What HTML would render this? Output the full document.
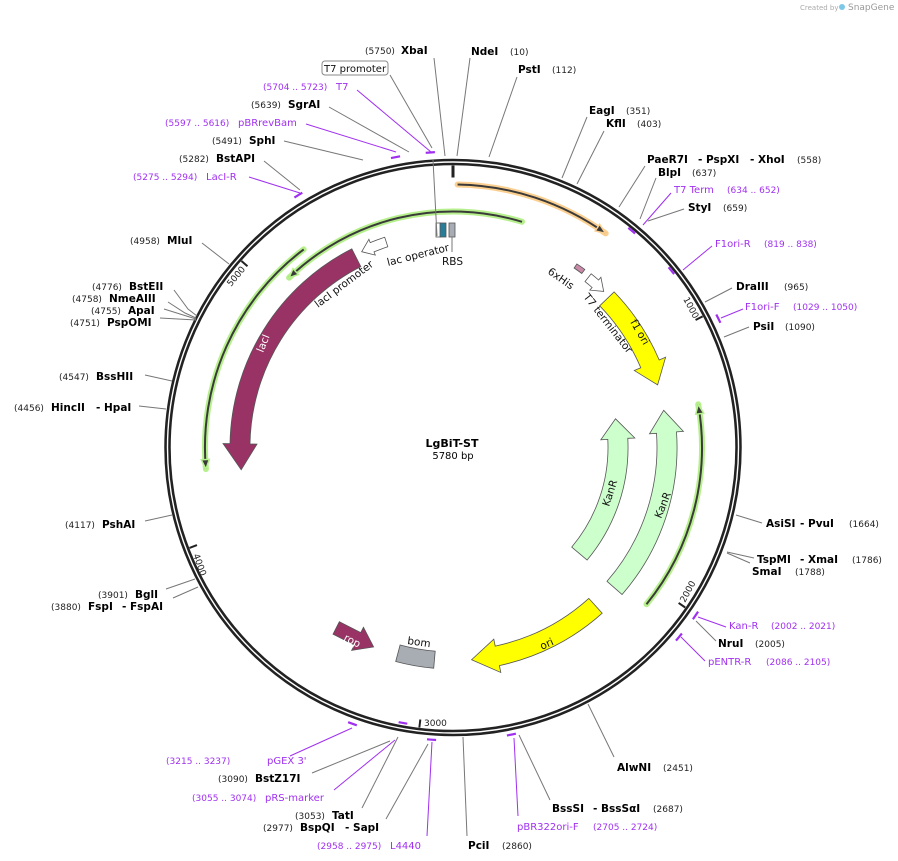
<!DOCTYPE html>
<html><head><meta charset="utf-8"><style>
html,body{margin:0;padding:0;background:#fff;}
svg{display:block;font-family:"DejaVu Sans","Liberation Sans",sans-serif;}
.n{font-size:9px;fill:#222;}
.b{font-size:10.5px;font-weight:bold;fill:#000;}
.p{font-size:10px;fill:#a030f0;}
.pn{font-size:9px;fill:#a030f0;}
.f{font-size:10.5px;fill:#111;}
.l{stroke:#777;stroke-width:1;fill:none;}
.lp{stroke:#a030f0;stroke-width:1;fill:none;}
</style></head><body>
<svg id="s" width="898" height="861" viewBox="0 0 898 861" xmlns="http://www.w3.org/2000/svg">
<text x="800" y="10" style="font-size:7px;fill:#aaa">Created by</text>
<text x="848" y="10" style="font-size:9px;fill:#999">SnapGene</text>
<circle cx="842" cy="7" r="3" fill="#7cc8e8"/>
<g id="shapes"></g>
<circle cx="453" cy="447.5" r="285.5" fill="none" stroke="#222" stroke-width="6.5"/>
<circle cx="453" cy="447.5" r="285.5" fill="none" stroke="#fff" stroke-width="1.4"/>
<g id="ticks"></g>
<rect x="436" y="223" width="5" height="14" fill="#fff" stroke="#555" stroke-width="0.8"/>
<rect x="440" y="223" width="6" height="14" fill="#2a7d96" stroke="#555" stroke-width="0.8"/>
<rect x="449" y="223" width="6" height="14" fill="#a8adb4" stroke="#555" stroke-width="0.8"/>
<line x1="452" y1="237" x2="452" y2="252" class="l"/>
<line x1="433" y1="160" x2="437" y2="236" class="l"/>
<polygon points="-20,-7 4,-7 4,-13 22,0 4,13 4,7 -20,7" fill="#993366" stroke="#555" stroke-width="0.8" transform="translate(354,637) rotate(27)"/>
<text class="f" transform="translate(343,640) rotate(27)" style="fill:#fff">rop</text>

<text class="f" transform="translate(318,308) rotate(-37)">lacI promoter</text>
<text class="f" transform="translate(388,266) rotate(-14)">lac operator</text>
<text class="f" x="442" y="265">RBS</text>
<text class="f" transform="translate(547,273) rotate(35)">6xHis</text>
<text class="f" transform="translate(583,297) rotate(52)">T7 terminator</text>
<text class="f" transform="translate(630,322) rotate(60)">f1 ori</text>
<text class="f" transform="translate(609,507) rotate(-72)">KanR</text>
<text class="f" transform="translate(661,519) rotate(-68)">KanR</text>
<text class="f" transform="translate(542,650) rotate(-25)">ori</text>
<text class="f" transform="translate(407,644) rotate(8)">bom</text>
<text class="f" transform="translate(263,353) rotate(-68)" style="fill:#fff">lacI</text>
<text x="452" y="447" text-anchor="middle" style="font-size:11px;font-weight:bold">LgBiT-ST</text>
<text x="453" y="459" text-anchor="middle" style="font-size:10px">5780 bp</text>

<text class="n" transform="translate(683,299) rotate(62)">1000</text>
<text class="n" transform="translate(685,603) rotate(-62)">2000</text>
<text class="n" x="424" y="726">3000</text>
<text class="n" transform="translate(193,555) rotate(70)">4000</text>
<text class="n" transform="translate(231,287) rotate(-50)">5000</text>

<text class="n" x="365" y="54">(5750)</text><text class="b" x="401" y="54">XbaI</text>
<line x1="434" y1="58" x2="445" y2="156" class="l"/>
<rect x="322" y="61" width="66" height="14" rx="3" fill="#fff" stroke="#888"/>
<text class="f" x="324" y="72" style="font-size:10px">T7 promoter</text>
<line x1="390" y1="75" x2="432" y2="148" class="l"/>
<text class="pn" x="263" y="90">(5704 .. 5723)</text><text class="p" x="336" y="90">T7</text>
<line x1="357" y1="90" x2="431" y2="152" class="lp"/>
<text class="n" x="251" y="108">(5639)</text><text class="b" x="288" y="108">SgrAI</text>
<line x1="329" y1="107" x2="409" y2="152" class="l"/>
<text class="pn" x="165" y="126">(5597 .. 5616)</text><text class="p" x="238" y="126">pBRrevBam</text>
<line x1="306" y1="124" x2="396" y2="152" class="lp"/>
<text class="n" x="212" y="144">(5491)</text><text class="b" x="249" y="144">SphI</text>
<line x1="284" y1="141" x2="363" y2="160" class="l"/>
<text class="n" x="179" y="162">(5282)</text><text class="b" x="216" y="162">BstAPI</text>
<line x1="264" y1="161" x2="300" y2="190" class="l"/>
<text class="pn" x="133" y="180">(5275 .. 5294)</text><text class="p" x="206" y="180">LacI-R</text>
<line x1="249" y1="177" x2="300" y2="193" class="lp"/>

<text class="b" x="471" y="55">NdeI</text><text class="n" x="510" y="55">(10)</text>
<line x1="470" y1="58" x2="457" y2="156" class="l"/>
<text class="b" x="518" y="73">PstI</text><text class="n" x="552" y="73">(112)</text>
<line x1="517" y1="77" x2="489" y2="157" class="l"/>
<text class="b" x="589" y="114">EagI</text><text class="n" x="626" y="114">(351)</text>
<line x1="587" y1="117" x2="562" y2="178" class="l"/>
<text class="b" x="606" y="127">KflI</text><text class="n" x="637" y="127">(403)</text>
<line x1="604" y1="131" x2="577" y2="184" class="l"/>
<text class="b" x="647" y="163">PaeR7I</text><text class="b" x="698" y="163">- PspXI</text><text class="b" x="750" y="163">- XhoI</text><text class="n" x="797" y="163">(558)</text>
<line x1="645" y1="166" x2="619" y2="207" class="l"/>
<text class="b" x="658" y="176">BlpI</text><text class="n" x="692" y="176">(637)</text>
<line x1="656" y1="178" x2="640" y2="219" class="l"/>
<text class="p" x="674" y="193">T7 Term</text><text class="pn" x="727" y="193">(634 .. 652)</text>
<line x1="671" y1="193" x2="643" y2="225" class="lp"/>
<text class="b" x="688" y="211">StyI</text><text class="n" x="723" y="211">(659)</text>
<line x1="684" y1="209" x2="648" y2="221" class="l"/>
<text class="p" x="715" y="247">F1ori-R</text><text class="pn" x="764" y="247">(819 .. 838)</text>
<line x1="712" y1="246" x2="683" y2="270" class="lp"/>
<text class="b" x="736" y="290">DraIII</text><text class="n" x="784" y="290">(965)</text>
<line x1="732" y1="288" x2="705" y2="302" class="l"/>
<text class="p" x="745" y="310">F1ori-F</text><text class="pn" x="793" y="310">(1029 .. 1050)</text>
<line x1="743" y1="309" x2="721" y2="318" class="lp"/>
<text class="b" x="753" y="330">PsiI</text><text class="n" x="785" y="330">(1090)</text>
<line x1="749" y1="327" x2="724" y2="337" class="l"/>

<text class="b" x="766" y="527">AsiSI</text><text class="b" x="800" y="527">- PvuI</text><text class="n" x="849" y="527">(1664)</text>
<line x1="762" y1="523" x2="736" y2="515" class="l"/>
<text class="b" x="757" y="563">TspMI</text><text class="b" x="800" y="563">- XmaI</text><text class="n" x="852" y="563">(1786)</text>
<line x1="754" y1="558" x2="727" y2="552" class="l"/>
<text class="b" x="752" y="575">SmaI</text><text class="n" x="795" y="575">(1788)</text>
<line x1="750" y1="563" x2="727" y2="553" class="l"/>
<text class="p" x="729" y="629">Kan-R</text><text class="pn" x="771" y="629">(2002 .. 2021)</text>
<line x1="726" y1="627" x2="698" y2="617" class="lp"/>
<text class="b" x="718" y="647">NruI</text><text class="n" x="755" y="647">(2005)</text>
<line x1="716" y1="641" x2="696" y2="621" class="l"/>
<text class="p" x="708" y="665">pENTR-R</text><text class="pn" x="766" y="665">(2086 .. 2105)</text>
<line x1="705" y1="661" x2="681" y2="637" class="lp"/>

<text class="b" x="617" y="771">AlwNI</text><text class="n" x="663" y="771">(2451)</text>
<line x1="614" y1="757" x2="588" y2="704" class="l"/>
<text class="b" x="552" y="812">BssSI</text><text class="b" x="593" y="812">- BssSαI</text><text class="n" x="653" y="812">(2687)</text>
<line x1="550" y1="800" x2="519" y2="735" class="l"/>
<text class="p" x="517" y="830">pBR322ori-F</text><text class="pn" x="593" y="830">(2705 .. 2724)</text>
<line x1="518" y1="816" x2="514" y2="738" class="lp"/>
<text class="b" x="468" y="849">PciI</text><text class="n" x="502" y="849">(2860)</text>
<line x1="467" y1="836" x2="463" y2="737" class="l"/>
<text class="pn" x="317" y="849">(2958 .. 2975)</text><text class="p" x="390" y="849">L4440</text>
<line x1="427" y1="836" x2="432" y2="742" class="lp"/>
<text class="n" x="263" y="831">(2977)</text><text class="b" x="300" y="831">BspQI</text><text class="b" x="345" y="831">- SapI</text>
<line x1="386" y1="819" x2="428" y2="744" class="l"/>
<text class="n" x="295" y="819">(3053)</text><text class="b" x="332" y="819">TatI</text>
<line x1="362" y1="808" x2="398" y2="737" class="l"/>
<text class="pn" x="192" y="801">(3055 .. 3074)</text><text class="p" x="265" y="801">pRS-marker</text>
<line x1="334" y1="790" x2="395" y2="740" class="lp"/>
<text class="n" x="218" y="782">(3090)</text><text class="b" x="255" y="782">BstZ17I</text>
<line x1="312" y1="773" x2="390" y2="741" class="l"/>
<text class="pn" x="166" y="764">(3215 .. 3237)</text><text class="p" x="267" y="764">pGEX 3'</text>
<line x1="290" y1="756" x2="352" y2="728" class="lp"/>

<text class="n" x="130" y="244">(4958)</text><text class="b" x="167" y="244">MluI</text>
<line x1="202" y1="243" x2="229" y2="264" class="l"/>
<text class="n" x="92" y="290">(4776)</text><text class="b" x="129" y="290">BstEII</text>
<text class="n" x="72" y="302">(4758)</text><text class="b" x="109" y="302">NmeAIII</text>
<text class="n" x="91" y="314">(4755)</text><text class="b" x="128" y="314">ApaI</text>
<text class="n" x="70" y="326">(4751)</text><text class="b" x="107" y="326">PspOMI</text>
<polyline points="174,290 188,309 197,316" class="l"/>
<polyline points="168,302 185,313 196,318" class="l"/>
<line x1="164" y1="309" x2="196" y2="319" class="l"/>
<line x1="160" y1="318" x2="196" y2="320" class="l"/>
<text class="n" x="59" y="380">(4547)</text><text class="b" x="96" y="380">BssHII</text>
<line x1="145" y1="375" x2="172" y2="381" class="l"/>
<text class="n" x="14" y="411">(4456)</text><text class="b" x="51" y="411">HincII</text><text class="b" x="96" y="411">- HpaI</text>
<line x1="139" y1="406" x2="166" y2="409" class="l"/>
<text class="n" x="65" y="528">(4117)</text><text class="b" x="102" y="528">PshAI</text>
<line x1="145" y1="521" x2="172" y2="515" class="l"/>
<text class="n" x="98" y="598">(3901)</text><text class="b" x="135" y="598">BglI</text>
<line x1="166" y1="589" x2="195" y2="579" class="l"/>
<text class="n" x="51" y="610">(3880)</text><text class="b" x="88" y="610">FspI</text><text class="b" x="122" y="610">- FspAI</text>
<line x1="173" y1="598" x2="198" y2="587" class="l"/>
</svg>
<script>
(function(){
var cx=453,cy=447.5,NS="http://www.w3.org/2000/svg";
function P(r,a){a*=Math.PI/180;return [cx+r*Math.sin(a),cy-r*Math.cos(a)];}
function f(p){return p[0].toFixed(1)+","+p[1].toFixed(1);}
function add(g,tag,attrs){var e=document.createElementNS(NS,tag);for(var k in attrs)e.setAttribute(k,attrs[k]);document.getElementById(g).appendChild(e);return e;}
function arc(r,a0,a1){var s=a1>a0?1:0,l=Math.abs(a1-a0)>180?1:0;return "M"+f(P(r,a0))+" A"+r+","+r+" 0 "+l+" "+s+" "+f(P(r,a1));}
function feat(rc,w,a0,a1,head,fill,hw){
  var d=a1>a0?1:-1,ab=a1-d*head,ri=rc-w/2,ro=rc+w/2;hw=hw||w*0.35;
  var s=d>0?1:0,l=Math.abs(ab-a0)>180?1:0;
  var p="M"+f(P(ro,a0))+" A"+ro+","+ro+" 0 "+l+" "+s+" "+f(P(ro,ab))+
   " L"+f(P(ro+hw,ab))+" L"+f(P(rc,a1))+" L"+f(P(ri-hw,ab))+" L"+f(P(ri,ab))+
   " A"+ri+","+ri+" 0 "+l+" "+(1-s)+" "+f(P(ri,a0))+" Z";
  add("shapes","path",{d:p,fill:fill,stroke:"#555","stroke-width":0.8});
}
function band(rc,w,a0,a1,fill){
  var ri=rc-w/2,ro=rc+w/2;
  var p="M"+f(P(ro,a0))+" A"+ro+","+ro+" 0 0 1 "+f(P(ro,a1))+" L"+f(P(ri,a1))+" A"+ri+","+ri+" 0 0 0 "+f(P(ri,a0))+" Z";
  add("shapes","path",{d:p,fill:fill,stroke:"#555","stroke-width":0.8});
}
function thin(r,a0,a1,halo){
  add("shapes","path",{d:arc(r,a0,a1),fill:"none",stroke:halo,"stroke-width":6,"stroke-linecap":"round"});
  add("shapes","path",{d:arc(r,a0,a1),fill:"none",stroke:"#3a3a3a","stroke-width":2});
  var d=a1>a0?1:-1,ab=a1-d*2.2;
  var p="M"+f(P(r+4,ab))+" L"+f(P(r,a1))+" L"+f(P(r-4,ab))+" Z";
  add("shapes","path",{d:p,fill:"#3a3a3a",stroke:halo,"stroke-width":1.5});
}
thin(263,1,35.5,"#fbcf8f");
thin(236,17,-44,"#b6f08c");
thin(248,-37,-95,"#b6f08c");
thin(249,129,80,"#b6f08c");
feat(213,20,-27,-96,7,"#993366");
feat(216,10,-18,-25,3,"#ffffff");
feat(214,20,46,73,6,"#ffff00");
feat(165,20,130,80,7,"#ccffcc");
feat(214,20,131,80,6,"#ccffcc");
feat(213,20,138,175,7,"#ffff00");
feat(217,10,38.5,44,3,"#ffffff");
band(219,5,34,36.5,"#c98aa8");
band(213,17,185,195,"#a8adb4");
[62.28,124.57,186.85,249.13,311.4].forEach(function(a){
  add("ticks","line",{x1:P(282,a)[0],y1:P(282,a)[1],x2:P(274,a)[0],y2:P(274,a)[1],stroke:"#222","stroke-width":2});
});
add("ticks","line",{x1:cx,y1:cy-282,x2:cx,y2:cy-270,stroke:"#222","stroke-width":3});
[[355.6,296],[348.8,296],[328.5,296],[39.5,281],[51,281],[64.1,295],[124.7,295],[130,295],[168.5,293],[184.2,293],[190.3,280],[200,294]].forEach(function(m){
  add("ticks","path",{d:arc(m[1],m[0]-0.9,m[0]+0.9),fill:"none",stroke:"#a030f0","stroke-width":2.2});
});
})();
</script>
</body></html>
